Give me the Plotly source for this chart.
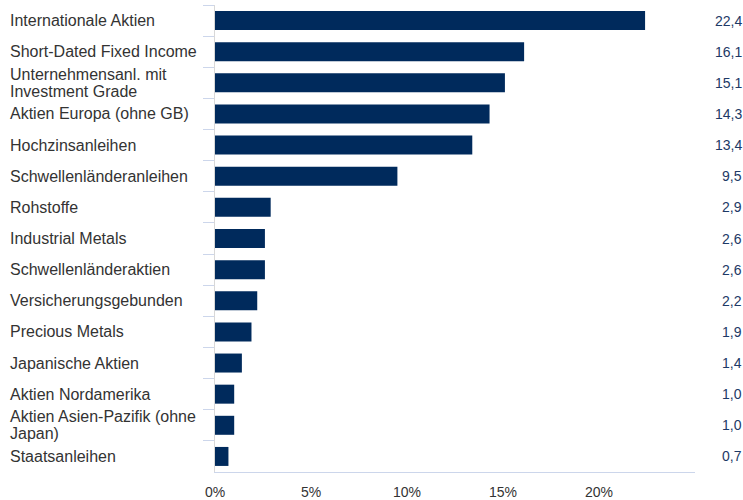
import plotly.graph_objects as go

categories = [
    "Internationale Aktien",
    "Short-Dated Fixed Income",
    "Unternehmensanl. mit<br>Investment Grade",
    "Aktien Europa (ohne GB)",
    "Hochzinsanleihen",
    "Schwellenländeranleihen",
    "Rohstoffe",
    "Industrial Metals",
    "Schwellenländeraktien",
    "Versicherungsgebunden",
    "Precious Metals",
    "Japanische Aktien",
    "Aktien Nordamerika",
    "Aktien Asien-Pazifik (ohne<br>Japan)",
    "Staatsanleihen",
]
values = [22.4, 16.1, 15.1, 14.3, 13.4, 9.5, 2.9, 2.6, 2.6, 2.2, 1.9, 1.4, 1.0, 1.0, 0.7]
x_ticks = [0, 5, 10, 15, 20]
x_tick_labels = ["0%", "5%", "10%", "15%", "20%"]

BAR = "#002a5c"
TEXT = "#333333"
LABEL = "#1d3966"
FONT = "Liberation Sans, Arial, sans-serif"

fig = go.Figure()
fig.add_trace(go.Bar(
    x=values, y=categories, orientation="h",
    marker=dict(color=BAR, line=dict(width=0)),
    hoverinfo="skip",
))

LINE_H = 17
annotations = []
for c, v in zip(categories, values):
    lines = c.split("<br>")
    n = len(lines)
    for i, ln in enumerate(lines):
        annotations.append(dict(
            x=-0.431, xref="paper", y=c, yref="y",
            text=ln, showarrow=False, xanchor="left", align="left",
            yshift=((n - 1) / 2 - i) * LINE_H,
            font=dict(family=FONT, size=16, color=TEXT),
        ))
    annotations.append(dict(
        x=1.102, xref="paper", y=c, yref="y",
        text=f"{v:.1f}".replace(".", ","), showarrow=False, xanchor="right",
        font=dict(family=FONT, size=14, color=LABEL),
    ))

fig.update_layout(
    width=743, height=500,
    margin=dict(l=215, r=48, t=5, b=28),
    paper_bgcolor="white", plot_bgcolor="white",
    showlegend=False,
    bargap=0.39,
    annotations=annotations,
    font=dict(family=FONT, size=14, color=TEXT),
)
fig.update_xaxes(
    range=[0, 25], tickvals=x_ticks, ticktext=x_tick_labels,
    showgrid=False, zeroline=False, automargin=False,
    showline=True, linecolor="#ccd6eb", linewidth=1,
    ticks="outside", ticklen=7, tickcolor="rgba(0,0,0,0)",
    tickfont=dict(family=FONT, size=14, color=TEXT),
    fixedrange=True,
)
fig.update_yaxes(
    autorange="reversed", showticklabels=False, automargin=False,
    showgrid=False, zeroline=False,
    showline=True, linecolor="#d8d8d8", linewidth=1,
    ticks="outside", tickson="boundaries", ticklen=11, tickcolor="#ccd6eb",
    fixedrange=True,
)

fig.write_html(
    "out.html",
    config={"displayModeBar": False},
    post_script="document.body.style.margin='0';document.body.style.padding='0';",
)
